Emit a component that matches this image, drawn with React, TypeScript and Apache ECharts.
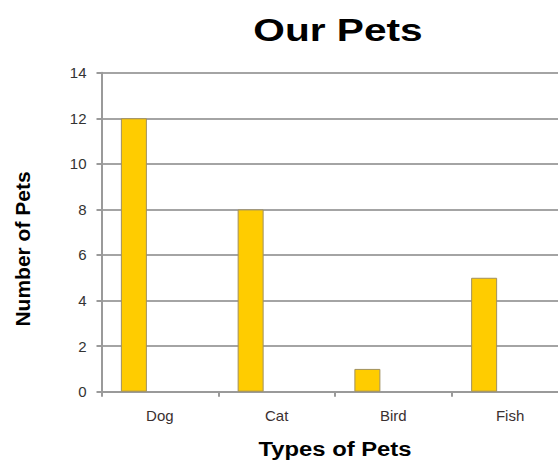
import React, { useEffect, useRef } from "react";
import * as echarts from "echarts";

const categories = ["Dog", "Cat", "Bird", "Fish"];
const petCounts = [12, 8, 1, 5];
const emptyValues = categories.map(() => null);
const yTicks = { min: 0, max: 14, interval: 2 };
const titleText = "Our Pets";
const xTitle = "Types of Pets";
const yTitle = "Number of Pets";

const FONT = "'Liberation Sans', Arial, sans-serif";

export default function App() {
  const ref = useRef<HTMLDivElement>(null);
  useEffect(() => {
    if (!ref.current) return;
    const chart = echarts.init(ref.current, null, { renderer: "svg" });
    const barStyle = {
      color: "#FFCC00",
      borderColor: "#a09060",
      borderWidth: 1,
    };
    chart.setOption({
      animation: false,
      backgroundColor: "#ffffff",
      grid: { left: 101.5, top: 72.7, bottom: 69.3, right: 11.5, containLabel: false },
      xAxis: {
        type: "category",
        data: categories,
        axisLine: { show: true, lineStyle: { color: "#9a9a9a", width: 2 } },
        axisTick: { show: true, length: 5, alignWithLabel: false, lineStyle: { color: "#9a9a9a", width: 2 } },
        axisLabel: { color: "#3a3030", fontSize: 15, fontFamily: FONT, margin: 16 },
        splitLine: { show: false },
      },
      yAxis: {
        type: "value",
        min: yTicks.min,
        max: yTicks.max,
        interval: yTicks.interval,
        axisLine: { show: true, lineStyle: { color: "#9a9a9a", width: 2 } },
        axisTick: { show: true, length: 5, lineStyle: { color: "#9a9a9a", width: 2 } },
        axisLabel: { color: "#333", fontSize: 15, fontFamily: FONT, margin: 15 },
        splitLine: { show: true, lineStyle: { color: "#a4a4a4", width: 1.8 } },
      },
      series: [
        { type: "bar", data: petCounts, barWidth: 26, barGap: 0, itemStyle: barStyle },
        { type: "bar", data: emptyValues, barWidth: 26, barGap: 0, itemStyle: barStyle },
        { type: "bar", data: emptyValues, barWidth: 26, barGap: 0, itemStyle: barStyle },
      ],
      graphic: [
        {
          type: "text",
          x: 338,
          y: 30,
          scaleX: 1.27,
          style: {
            text: titleText,
            fontSize: 32,
            fontWeight: "bold",
            fontFamily: FONT,
            fill: "#000",
            textAlign: "center",
            textVerticalAlign: "middle",
          },
        },
        {
          type: "text",
          x: 335,
          y: 449,
          scaleX: 1.19,
          style: {
            text: xTitle,
            fontSize: 20,
            fontWeight: "bold",
            fontFamily: FONT,
            fill: "#000",
            textAlign: "center",
            textVerticalAlign: "middle",
          },
        },
        {
          type: "text",
          x: 22,
          y: 249,
          rotation: Math.PI / 2,
          style: {
            text: yTitle,
            fontSize: 21,
            fontWeight: "bold",
            fontFamily: FONT,
            fill: "#000",
            textAlign: "center",
            textVerticalAlign: "middle",
          },
        },
      ],
    });
    return () => chart.dispose();
  }, []);
  return (
    <div style={{ position: "fixed", left: 0, top: 0, width: 558, height: 461, overflow: "hidden", background: "#fff" }}>
      <div ref={ref} style={{ width: 580, height: 461 }} />
    </div>
  );
}
